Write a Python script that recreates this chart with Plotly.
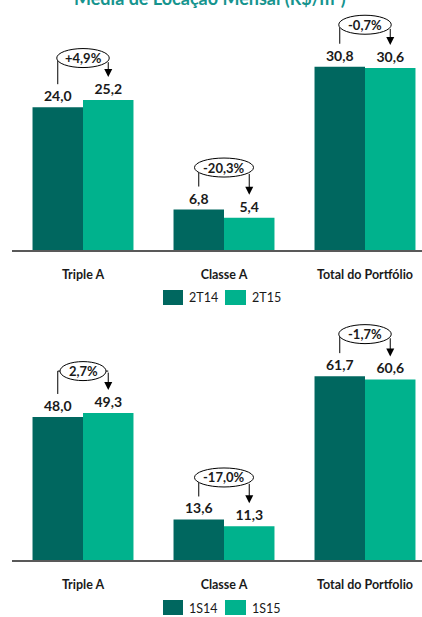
import math
import plotly.graph_objects as go

# ---- data ----
categories_top = ["Triple A", "Classe A", "Total do Portfólio"]
categories_bottom = ["Triple A", "Classe A", "Total do Portfolio"]

quarter_labels = ["2T14", "2T15"]
q_2t14 = [24.0, 6.8, 30.8]
q_2t15 = [25.2, 5.4, 30.6]
q_change = ["+4,9%", "-20,3%", "-0,7%"]

semester_labels = ["1S14", "1S15"]
s_1s14 = [48.0, 13.6, 61.7]
s_1s15 = [49.3, 11.3, 60.6]
s_change = ["2,7%", "-17,0%", "-1,7%"]

title_text = "Média de Locação Mensal (R$/m²)"

# ---- styling ----
W, H = 422, 617
DARK = "#00675F"
LIGHT = "#00B28D"
TXT = "#1a1a1a"
FONT = "Lato"
AXIS_GRAY = "#595959"

X_LEFT_PX = 12
CAT_PX = 141.0           # pixels per category
FIRST_CENTER_PX = 83.0
x_range = [(X_LEFT_PX - FIRST_CENTER_PX) / CAT_PX, (W - FIRST_CENTER_PX) / CAT_PX]
x_domain = [X_LEFT_PX / W, 1.0]

# panel geometry in pixels (top, bottom of plot area) and value scale
panels = [
    dict(top=0, bottom=250, ppu=5.95, xa="x", ya="y",
         cats=categories_top, a=q_2t14, b=q_2t15, chg=q_change, names=quarter_labels),
    dict(top=320, bottom=560, ppu=2.98, xa="x2", ya="y2",
         cats=categories_bottom, a=s_1s14, b=s_1s15, chg=s_change, names=semester_labels),
]

BARGAP = 0.284
HALF = (1 - BARGAP) / 4  # offset from group center to each bar center

fig = go.Figure()
shapes = []
annotations = []

for k, p in enumerate(panels):
    xs = list(range(len(p["cats"])))
    for vals, col, name in ((p["a"], DARK, p["names"][0]), (p["b"], LIGHT, p["names"][1])):
        fig.add_trace(go.Bar(
            x=xs, y=vals, name=name, marker=dict(color=col, line=dict(width=0)),
            texttemplate="<b>%{y:.1f}</b>", textposition="outside",
            textfont=dict(family=FONT, size=14, color=TXT),
            cliponaxis=False, showlegend=False, xaxis=p["xa"], yaxis=p["ya"],
        ))

    s = p["ppu"]
    for i, (va, vb, txt) in enumerate(zip(p["a"], p["b"], p["chg"])):
        xl, xr = i - HALF, i + HALF
        y_left0 = va + 23 / s
        y_right_tip = vb + 23 / s
        level = max(y_left0, y_right_tip) + 19 / s
        a_px = (6.5 * len(txt) + 20) / 2
        b_px = 9.5
        dx_px = HALF * CAT_PX
        if dx_px < a_px:
            edge = b_px * math.sqrt(1 - (dx_px / a_px) ** 2) / s
            y_end = level - edge
            bridge = False
        else:
            y_end = level
            bridge = True
        # left leg of the bracket
        path = f"M{xl},{y_left0} L{xl},{y_end}"
        if bridge:
            path += f" L{i - a_px / CAT_PX},{level}"
            shapes.append(dict(type="line", xref=p["xa"], yref=p["ya"],
                               x0=i + a_px / CAT_PX, x1=xr, y0=level, y1=level,
                               line=dict(color="black", width=1)))
        shapes.append(dict(type="path", path=path, xref=p["xa"], yref=p["ya"],
                           line=dict(color="black", width=1)))
        # ellipse with the change figure
        shapes.append(dict(type="circle", xref=p["xa"], yref=p["ya"],
                           xsizemode="pixel", ysizemode="pixel",
                           xanchor=i, yanchor=level,
                           x0=-a_px, x1=a_px, y0=-b_px, y1=b_px,
                           fillcolor="white", line=dict(color="black", width=1)))
        annotations.append(dict(x=i, y=level, xref=p["xa"], yref=p["ya"], text=f"<b>{txt}</b>",
                                showarrow=False, font=dict(family=FONT, size=13, color=TXT)))
        # right leg with arrow head
        annotations.append(dict(x=xr, y=y_right_tip, ax=xr, ay=y_end,
                                xref=p["xa"], yref=p["ya"], axref=p["xa"], ayref=p["ya"],
                                text="", showarrow=True, arrowhead=2, arrowsize=1.6,
                                arrowwidth=1, arrowcolor="black", standoff=0, startstandoff=0))

    # legend drawn as swatches + labels
    leg_y0 = p["bottom"] + 40
    leg_y1 = leg_y0 + 15
    for (x0, x1, col, lab) in ((163, 183, DARK, p["names"][0]), (225, 246, LIGHT, p["names"][1])):
        shapes.append(dict(type="rect", xref="paper", yref="paper",
                           x0=x0 / W, x1=x1 / W, y0=1 - leg_y1 / H, y1=1 - leg_y0 / H,
                           fillcolor=col, line=dict(width=0)))
        annotations.append(dict(x=(x1 + 4) / W, y=1 - (leg_y0 + 8) / H, xref="paper", yref="paper",
                                text=lab, showarrow=False, xanchor="left", yanchor="middle",
                                font=dict(family=FONT, size=12.5, color=TXT)))

# heading, mostly above the visible page
annotations.append(dict(x=210 / W, y=1 - 11 / H, xref="paper", yref="paper",
                        text=f"<b>{title_text}</b>", showarrow=False,
                        xanchor="center", yanchor="bottom",
                        font=dict(family=FONT, size=18, color="#16948E")))

axis_common = dict(showgrid=False, zeroline=False, showline=True, linecolor=AXIS_GRAY,
                   linewidth=1.5, ticks="", range=x_range, domain=x_domain,
                   tickmode="array", tickvals=[0, 1, 2],
                   tickfont=dict(family=FONT, size=12.5, color=TXT), ticklabelstandoff=12)

for k, p in enumerate(panels):
    xkey = "xaxis" if k == 0 else "xaxis2"
    ykey = "yaxis" if k == 0 else "yaxis2"
    fig.update_layout(**{
        xkey: dict(axis_common, ticktext=[f"<b>{c}</b>" for c in p["cats"]],
                   anchor=p["ya"]),
        ykey: dict(domain=[1 - p["bottom"] / H, 1 - p["top"] / H],
                   range=[0, (p["bottom"] - p["top"]) / p["ppu"]],
                   visible=False, anchor=p["xa"]),
    })

fig.update_layout(
    width=W, height=H, margin=dict(l=0, r=0, t=0, b=0),
    paper_bgcolor="white", plot_bgcolor="white",
    barmode="group", bargap=BARGAP, bargroupgap=0,
    separators=",.", showlegend=False,
    font=dict(family=FONT, color=TXT),
    shapes=shapes, annotations=annotations,
)

fig.write_html("out.html")
